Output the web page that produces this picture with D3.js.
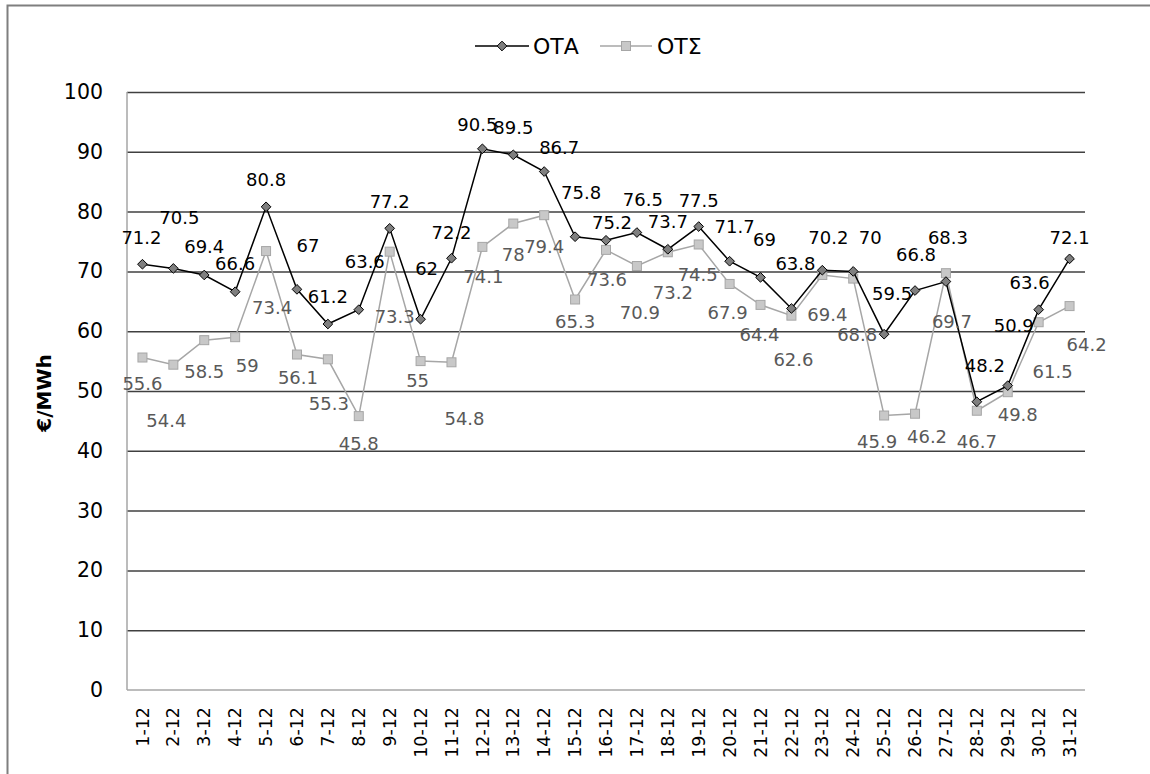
<!DOCTYPE html>
<html>
<head>
<meta charset="utf-8">
<script src="https://cdn.jsdelivr.net/npm/d3@7"></script>
<style>
  html, body { margin: 0; padding: 0; background: #fff; }
  svg { display: block; }
</style>
</head>
<body>
<svg id="chart" width="1150" height="774"></svg>
<script>
// ---------- DATA ----------
const categories = ["1-12","2-12","3-12","4-12","5-12","6-12","7-12","8-12","9-12","10-12",
  "11-12","12-12","13-12","14-12","15-12","16-12","17-12","18-12","19-12","20-12",
  "21-12","22-12","23-12","24-12","25-12","26-12","27-12","28-12","29-12","30-12","31-12"];
const otaValues = [71.2,70.5,69.4,66.6,80.8,67,61.2,63.6,77.2,62,72.2,90.5,89.5,86.7,75.8,75.2,
  76.5,73.7,77.5,71.7,69,63.8,70.2,70,59.5,66.8,68.3,48.2,50.9,63.6,72.1];
const otsValues = [55.6,54.4,58.5,59,73.4,56.1,55.3,45.8,73.3,55,54.8,74.1,78,79.4,65.3,73.6,
  70.9,73.2,74.5,67.9,64.4,62.6,69.4,68.8,45.9,46.2,69.7,46.7,49.8,61.5,64.2];
const seriesNames = ["ΟΤΑ", "ΟΤΣ"];
const yTicks = [0,10,20,30,40,50,60,70,80,90,100];
const yTitle = "€/MWh";

// ---------- LAYOUT (label placement nudges, px: [dx, dy] from the marker) ----------
const otaLabelNudge = [[-1,-27],[6,-51],[0,-28],[0,-28],[0,-27],[11,-44],[0,-28],[6,-48],[0,-27],[6,-51],
  [0,-26],[-5,-24],[0,-27],[15,-24],[6,-44],[6,-18],[6,-33],[0,-28],[0,-26],[5,-35],
  [4,-38],[4,-45],[6,-33],[17,-34],[8,-41],[1,-36],[2,-44],[8,-36],[6,-60],[-9,-27],[0,-21]];
const otsLabelNudge = [[0,26],[-7,56],[0,31],[12,28],[6,56],[1,23],[1,44],[0,27],[5,65],[-3,19],
  [13,56],[1,30],[0,31],[0,31],[0,22],[1,30],[3,46],[5,40],[-1,30],[-2,29],
  [-1,30],[2,44],[5,40],[4,56],[-7,26],[12,23],[6,48],[0,31],[10,22],[14,49],[17,38]];

const FONT = "'DejaVu Sans', sans-serif";
const plot = { left: 127, right: 1085, top: 92, bottom: 690 };

const svg = d3.select("#chart").style("font-family", FONT);

// outer border
svg.append("rect").attr("x", 7.5).attr("y", 5.5).attr("width", 1200).attr("height", 900)
  .attr("fill", "none").attr("stroke", "#7f7f7f").attr("stroke-width", 2);

const x = d3.scaleBand().domain(categories).range([plot.left, plot.right]);
const y = d3.scaleLinear().domain([0, 100]).range([plot.bottom, plot.top]);
const cx = d => x(d) + x.bandwidth() / 2;

// gridlines
const grid = svg.append("g").attr("transform", `translate(${plot.left},0)`)
  .call(d3.axisLeft(y).tickValues(yTicks.filter(v => v > 0)).tickSize(-(plot.right - plot.left)).tickFormat(""));
grid.select(".domain").remove();
grid.selectAll("line").attr("stroke", "#404040").attr("stroke-width", 1.5);

// y axis labels
const yAxis = svg.append("g").attr("transform", `translate(${plot.left},0)`)
  .call(d3.axisLeft(y).tickValues(yTicks).tickSize(0).tickPadding(24));
yAxis.select(".domain").remove();
yAxis.selectAll("text").attr("font-family", FONT).attr("font-size", 20.5).attr("fill", "#000");

// axis lines
svg.append("line").attr("x1", plot.left).attr("x2", plot.left).attr("y1", plot.top).attr("y2", plot.bottom)
  .attr("stroke", "#a6a6a6").attr("stroke-width", 1.5);
svg.append("line").attr("x1", plot.left).attr("x2", plot.right).attr("y1", plot.bottom).attr("y2", plot.bottom)
  .attr("stroke", "#a6a6a6").attr("stroke-width", 1.5);

// x axis labels
const xAxis = svg.append("g").attr("transform", `translate(0,${plot.bottom})`)
  .call(d3.axisBottom(x).tickSize(0));
xAxis.select(".domain").remove();
xAxis.selectAll("text")
  .attr("font-family", FONT).attr("font-size", 17.5).attr("fill", "#000")
  .attr("transform", "rotate(-90)")
  .attr("x", -17).attr("y", 0).attr("dy", "0.35em")
  .attr("text-anchor", "end");

// y title
svg.append("text").attr("transform", "translate(44,393) rotate(-90)")
  .attr("text-anchor", "middle").attr("dominant-baseline", "central")
  .attr("font-family", FONT).attr("font-weight", "bold").attr("font-size", 20).attr("fill", "#000")
  .text(yTitle);

const line = d3.line().x((d, i) => cx(categories[i])).y(d => y(d));

// OTΣ series
svg.append("path").datum(otsValues).attr("d", line)
  .attr("fill", "none").attr("stroke", "#a6a6a6").attr("stroke-width", 1.5);
svg.append("g").selectAll("rect").data(otsValues).join("rect")
  .attr("x", (d, i) => cx(categories[i]) - 4.5).attr("y", d => y(d) - 4.5)
  .attr("width", 9).attr("height", 9)
  .attr("fill", "#c8c8c8").attr("stroke", "#a6a6a6").attr("stroke-width", 1);

// OTA series
svg.append("path").datum(otaValues).attr("d", line)
  .attr("fill", "none").attr("stroke", "#000").attr("stroke-width", 1.5);
svg.append("g").selectAll("path").data(otaValues).join("path")
  .attr("d", d3.symbol(d3.symbolDiamond2, 60))
  .attr("transform", (d, i) => `translate(${cx(categories[i])},${y(d)})`)
  .attr("fill", "#7f7f7f").attr("stroke", "#000").attr("stroke-width", 1);

// labels
svg.append("g").selectAll("text").data(otsValues).join("text")
  .attr("x", (d, i) => cx(categories[i]) + otsLabelNudge[i][0])
  .attr("y", (d, i) => y(d) + otsLabelNudge[i][1])
  .attr("text-anchor", "middle").attr("dominant-baseline", "central")
  .attr("font-family", FONT).attr("font-size", 18).attr("fill", "#595959")
  .text(d => d);
svg.append("g").selectAll("text").data(otaValues).join("text")
  .attr("x", (d, i) => cx(categories[i]) + otaLabelNudge[i][0])
  .attr("y", (d, i) => y(d) + otaLabelNudge[i][1])
  .attr("text-anchor", "middle").attr("dominant-baseline", "central")
  .attr("font-family", FONT).attr("font-size", 18).attr("fill", "#000")
  .text(d => d);

// legend
const lg = svg.append("g");
lg.append("line").attr("x1", 475).attr("x2", 529).attr("y1", 46).attr("y2", 46).attr("stroke", "#000").attr("stroke-width", 1.5);
lg.append("path").attr("d", d3.symbol(d3.symbolDiamond2, 60)).attr("transform", "translate(502,46)")
  .attr("fill", "#7f7f7f").attr("stroke", "#000");
lg.append("text").attr("x", 533).attr("y", 46).attr("dominant-baseline", "central")
  .attr("font-family", FONT).attr("font-size", 22).attr("fill", "#000").text(seriesNames[0]);
lg.append("line").attr("x1", 600).attr("x2", 652).attr("y1", 46).attr("y2", 46).attr("stroke", "#a6a6a6").attr("stroke-width", 1.5);
lg.append("rect").attr("x", 621.5).attr("y", 41.5).attr("width", 9).attr("height", 9)
  .attr("fill", "#c8c8c8").attr("stroke", "#a6a6a6");
lg.append("text").attr("x", 657).attr("y", 46).attr("dominant-baseline", "central")
  .attr("font-family", FONT).attr("font-size", 22).attr("fill", "#000").text(seriesNames[1]);
</script>
</body>
</html>
